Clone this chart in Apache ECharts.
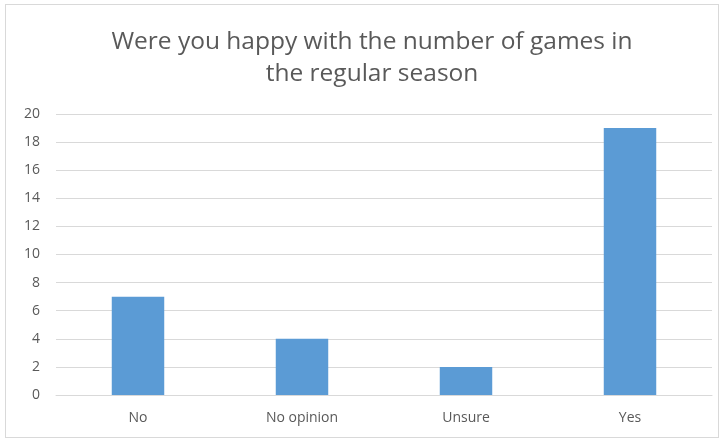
<!DOCTYPE html>
<html>
<head>
<meta charset="utf-8">
<script src="https://cdn.jsdelivr.net/npm/echarts@6/dist/echarts.min.js"></script>
<style>
  html, body { margin: 0; padding: 0; background: #fff; }
  #chart { position: absolute; left: 5px; top: 4px; width: 714px; height: 434px;
           border: 1px solid #d9d9d9; box-sizing: border-box; }
</style>
</head>
<body>
<div id="chart"></div>
<script>
var categories = ['No', 'No opinion', 'Unsure', 'Yes'];
var answers = [7, 4, 2, 19];
var yTicks = { min: 0, max: 20, step: 2 };

var chart = echarts.init(document.getElementById('chart'));

var option = {
  animation: false,
  title: {
    text: 'Were you happy with the number of games in\nthe regular season',
    left: 361,
    textAlign: 'center',
    top: 16,
    textStyle: {
      fontFamily: 'Open Sans',
      fontSize: 24.5,
      fontWeight: 'normal',
      color: '#595959',
      lineHeight: 32
    }
  },
  grid: {
    left: 50,
    right: 6,
    top: 109,
    bottom: 42
  },
  xAxis: {
    type: 'category',
    data: categories,
    axisTick: { show: false },
    axisLine: { lineStyle: { color: '#d9d9d9' } },
    axisLabel: { color: '#595959', fontSize: 14, fontFamily: 'Open Sans', margin: 16 }
  },
  yAxis: {
    type: 'value',
    min: yTicks.min,
    max: yTicks.max,
    interval: yTicks.step,
    axisLine: { show: false },
    axisTick: { show: false },
    splitLine: { lineStyle: { color: '#d9d9d9' } },
    axisLabel: { color: '#595959', fontSize: 14, fontFamily: 'Open Sans', margin: 16 }
  },
  series: [{
    type: 'bar',
    data: answers,
    barWidth: '32%',
    itemStyle: { color: '#5b9bd5' }
  }]
};

chart.setOption(option);
</script>
</body>
</html>
